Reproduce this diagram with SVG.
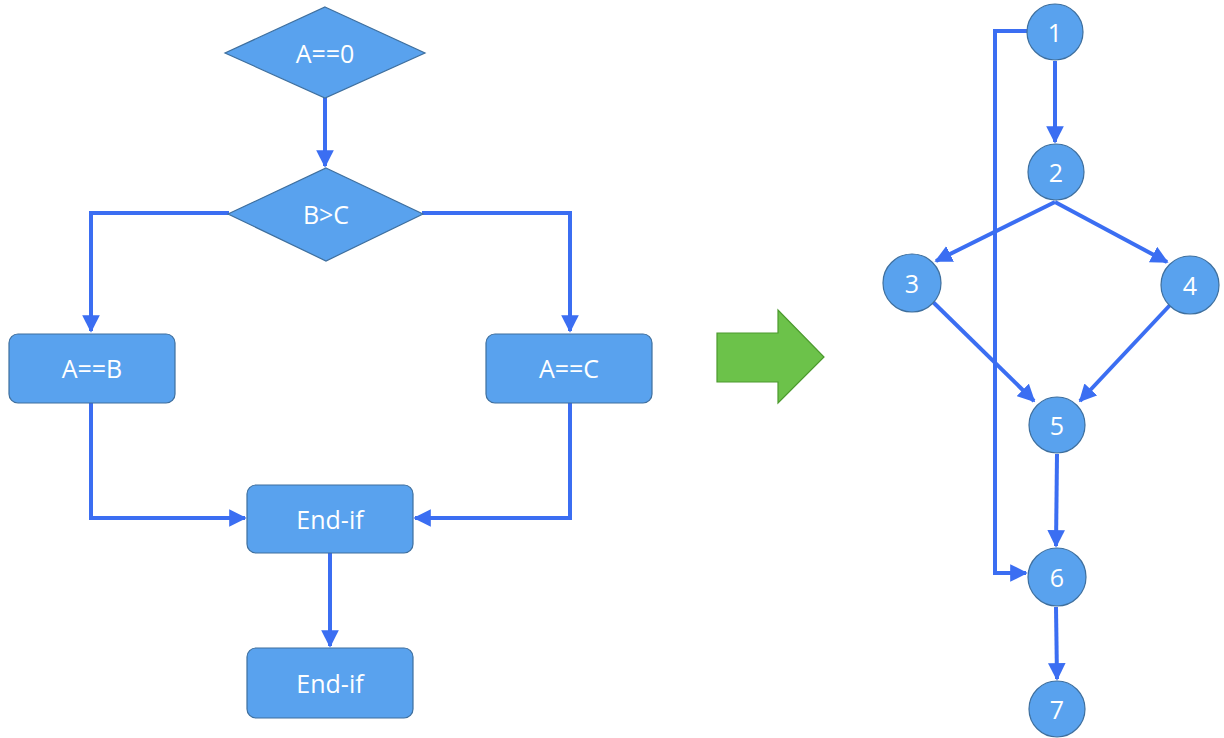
<svg xmlns="http://www.w3.org/2000/svg" width="1224" height="738" viewBox="0 0 1224 738">
  <defs>
    <marker id="arrow" viewBox="0 0 10 10" refX="9" refY="5" markerWidth="4.4" markerHeight="4.4" orient="auto" markerUnits="strokeWidth">
      <path d="M0,0 L10,5 L0,10 z" fill="#3b6ef2"/>
    </marker>
    <style>
      .node { fill: #59a2ee; stroke: #3e6f9e; stroke-width: 1.2; }
      .label { font-family: "Open Sans", "Liberation Sans", sans-serif; font-size: 25px; fill: #ffffff; text-anchor: middle; dominant-baseline: central; }
      .edge { fill: none; stroke: #3b6ef2; stroke-width: 4; marker-end: url(#arrow); }
    </style>
  </defs>
  <rect width="1224" height="738" fill="#ffffff"/>

  <!-- flowchart connectors -->
  <g id="flow-edges">
    <path class="edge" d="M325,98 V166"/>
    <path class="edge" d="M229,213 H91 V331"/>
    <path class="edge" d="M422,213 H570 V331"/>
    <path class="edge" d="M91,403 V518 H245"/>
    <path class="edge" d="M570,403 V518 H415"/>
    <path class="edge" d="M330,553 V646"/>
  </g>

  <!-- flowchart nodes -->
  <g id="f-a0">
    <polygon class="node" points="325,7 425,53 325,98 225,53"/>
    <text class="label" x="325" y="53">A==0</text>
  </g>
  <g id="f-bc">
    <polygon class="node" points="326,168 423,214 326,261 228,214"/>
    <text class="label" x="326" y="214">B&gt;C</text>
  </g>
  <g id="f-ab">
    <rect class="node" x="9" y="334" width="166" height="69" rx="9"/>
    <text class="label" x="92" y="368">A==B</text>
  </g>
  <g id="f-ac">
    <rect class="node" x="486" y="334" width="166" height="69" rx="9"/>
    <text class="label" x="569" y="368">A==C</text>
  </g>
  <g id="f-endif1">
    <rect class="node" x="247" y="485" width="166" height="68" rx="9"/>
    <text class="label" x="330" y="519">End-if</text>
  </g>
  <g id="f-endif2">
    <rect class="node" x="247" y="648" width="166" height="70" rx="9"/>
    <text class="label" x="330" y="683">End-if</text>
  </g>

  <!-- transformation arrow -->
  <g id="convert-arrow">
    <polygon points="717,333 778,333 778,310 824,357 778,403 778,382 717,382" fill="#6cc24a" stroke="#4c9a2e" stroke-width="1.2"/>
  </g>

  <!-- control-flow graph connectors -->
  <g id="cfg-edges">
    <path class="edge" d="M1027,31 H995 V573 H1026"/>
    <path class="edge" d="M1055,61 V142"/>
    <path class="edge" d="M1055,202 L936,261"/>
    <path class="edge" d="M1055,202 L1167,262"/>
    <path class="edge" d="M933,302 L1034,401"/>
    <path class="edge" d="M1171,304 L1080,401"/>
    <path class="edge" d="M1057,454 L1056,546"/>
    <path class="edge" d="M1056,607 L1057,679"/>
  </g>

  <!-- control-flow graph nodes -->
  <g id="n1"><circle class="node" cx="1055" cy="32" r="28"/><text class="label" x="1055" y="32">1</text></g>
  <g id="n2"><circle class="node" cx="1056" cy="172" r="28"/><text class="label" x="1056" y="172">2</text></g>
  <g id="n3"><circle class="node" cx="912" cy="283" r="29"/><text class="label" x="912" y="283">3</text></g>
  <g id="n4"><circle class="node" cx="1190" cy="285" r="29"/><text class="label" x="1190" y="285">4</text></g>
  <g id="n5"><circle class="node" cx="1057" cy="425" r="28"/><text class="label" x="1057" y="425">5</text></g>
  <g id="n6"><circle class="node" cx="1057" cy="577" r="29"/><text class="label" x="1057" y="577">6</text></g>
  <g id="n7"><circle class="node" cx="1057" cy="709" r="28"/><text class="label" x="1057" y="709">7</text></g>
</svg>
